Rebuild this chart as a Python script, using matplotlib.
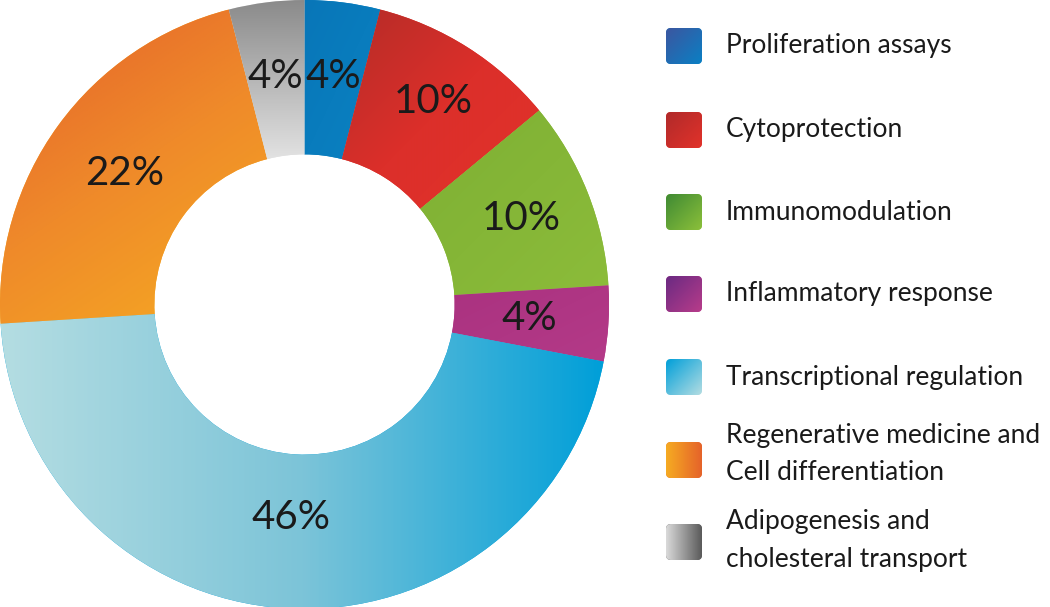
import numpy as np
import matplotlib
matplotlib.use("Agg")
import matplotlib.pyplot as plt
from matplotlib.colors import LinearSegmentedColormap
from matplotlib.patches import FancyBboxPatch

# data
labels = ["Proliferation assays", "Cytoprotection", "Immunomodulation",
          "Inflammatory response", "Transcriptional regulation",
          "Regenerative medicine and\nCell differentiation",
          "Adipogenesis and\ncholesteral transport"]
shares = [4, 10, 10, 4, 46, 22, 4]

# gradient colours (stops, direction in degrees)
grads = [(["#0876b8", "#0a82c2"], -45),
         (["#b42c28", "#dc2f2a", "#e2322a"], -45),
         (["#7eb034", "#8cbc3a"], -45),
         (["#aa3280", "#b43a88"], -45),
         (["#b4dde2", "#7cc4d8", "#009fd9"], 0),
         (["#e4602a", "#ef8a2a", "#f6ab22"], -60),
         (["#8a8a8a", "#e2e2e2"], -90)]
label_r = [0.755, 0.79, 0.765, 0.74, 0.70, 0.73, 0.755]

plt.rcParams['font.family'] = ['Lato', 'DejaVu Sans']

fig = plt.figure(figsize=(10.5, 6.07), dpi=100)


def gradient(ax, stops, ang, extent, clip, z=2):
    n = 200
    x, y = np.meshgrid(np.linspace(0, 1, n), np.linspace(1, 0, n))
    a = np.deg2rad(ang)
    v = np.cos(a) * x + np.sin(a) * y
    v = (v - v.min()) / (v.max() - v.min())
    cm = LinearSegmentedColormap.from_list("g", stops)
    im = ax.imshow(v, cmap=cm, extent=extent, interpolation="bilinear",
                   aspect="auto", zorder=z)
    im.set_clip_path(clip)


# donut
ax = fig.add_axes([0, -2 / 607, 609 / 1050, 609 / 607])
wedges, _ = ax.pie(shares, startangle=90, counterclock=False, radius=1,
                   wedgeprops=dict(width=0.507, linewidth=0))
for w, (stops, ang) in zip(wedges, grads):
    w.set_facecolor(stops[-1])
    p = w.get_patch_transform().transform_path(w.get_path())
    bb = p.get_extents()
    gradient(ax, stops, ang, [bb.x0, bb.x1, bb.y0, bb.y1], w)

# percent labels
cum = 0
for s, r in zip(shares, label_r):
    mid = np.deg2rad(90 - (cum + s / 2) * 3.6)
    cum += s
    ax.text(r * np.cos(mid), r * np.sin(mid), f"{s}%", ha="center",
            va="center", fontsize=29, color="#1a1a1a", zorder=5)
ax.set_xlim(-1, 1)
ax.set_ylim(-1, 1)
ax.axis("off")

# legend
lax = fig.add_axes([0, 0, 1, 1])
ys = [46, 130, 212, 294, 377, 460, 542]
text_dy = [0, 0, 0, 0, 0, -6, -2]
leg_grads = [(["#3c56a0", "#0a80c4"], -45),
             (["#b02a2a", "#e2322a"], -45),
             (["#3f8a34", "#8cc03a"], -45),
             (["#6a2a82", "#b83c8a"], -45),
             (["#009fd9", "#b4dde2"], -45),
             (["#f6ab22", "#e5632a"], 0),
             (["#dadada", "#5a5a5a"], 0)]
for y, dy, lab, (stops, ang) in zip(ys, text_dy, labels, leg_grads):
    box = FancyBboxPatch((666 + 5, y - 18 + 5), 26, 26,
                         boxstyle="round,pad=5", linewidth=0,
                         facecolor=stops[-1], zorder=1)
    lax.add_patch(box)
    gradient(lax, stops, ang, [666, 702, y + 18, y - 18], box, z=3)
    lax.text(726, y + dy, lab, ha="left", va="center", fontsize=19,
             color="#1a1a1a", linespacing=1.65)
lax.set_xlim(0, 1050)
lax.set_ylim(607, 0)
lax.axis("off")

fig.savefig("out.png", dpi=100)
